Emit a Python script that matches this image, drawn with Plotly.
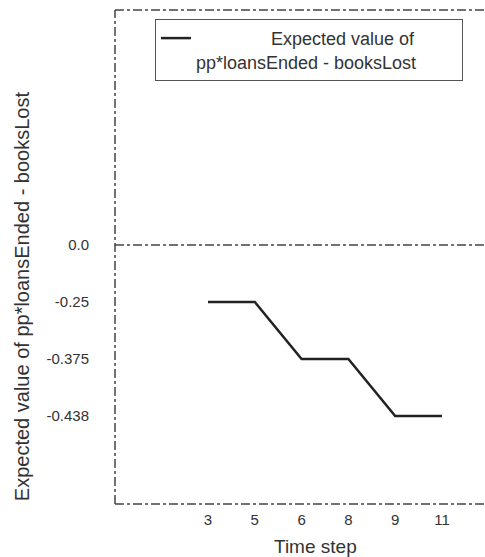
import plotly.graph_objects as go

# Data
time_steps = ["3", "5", "6", "8", "9", "11"]
expected_values = ["-0.25", "-0.25", "-0.375", "-0.375", "-0.438", "-0.438"]
y_categories = ["-0.438", "-0.375", "-0.25", "0.0"]
x_title = "Time step"
y_title = "Expected value of pp*loansEnded - booksLost"

NB = "\u00a0"
legend_name = NB * 15 + "Expected value of<br>pp*loansEnded - booksLost" + NB * 8

fig = go.Figure()
fig.add_trace(go.Scatter(
    x=time_steps, y=expected_values, mode="lines",
    name=legend_name,
    line=dict(color="#222222", width=2.5),
))

font_family = "Liberation Sans, Arial, sans-serif"
axis_color = "#444444"

fig.update_layout(
    width=485, height=557,
    margin=dict(l=115, r=0, t=10, b=53, autoexpand=False),
    paper_bgcolor="white", plot_bgcolor="white",
    font=dict(family=font_family, color="#333333"),
    showlegend=True,
    legend=dict(
        x=0.108, y=0.982, xanchor="left", yanchor="top",
        bordercolor="#555555", borderwidth=1, bgcolor="white",
        font=dict(size=18, color="#333333", family=font_family),
        valign="top",
    ),
    xaxis=dict(
        type="category", categoryorder="array", categoryarray=time_steps,
        range=[-1.987, 5.919], showgrid=False, zeroline=False, showline=False,
        ticks="", tickfont=dict(size=15, color="#333333"), ticklabelstandoff=5,
        fixedrange=True, automargin=False,
    ),
    yaxis=dict(
        type="category", categoryorder="array", categoryarray=y_categories,
        range=[-1.544, 7.12], showgrid=False, zeroline=False, showline=False,
        ticks="", tickfont=dict(size=15, color="#333333"), ticklabelstandoff=25,
        fixedrange=True, automargin=False,
    ),
    shapes=[
        dict(type="line", xref="paper", yref="paper", x0=0, x1=0, y0=0, y1=1,
             line=dict(color=axis_color, width=1.5, dash="dashdot")),
        dict(type="line", xref="paper", yref="paper", x0=0, x1=1, y0=1, y1=1,
             line=dict(color=axis_color, width=1.5, dash="dashdot")),
        dict(type="line", xref="paper", yref="paper", x0=0, x1=1, y0=0, y1=0,
             line=dict(color=axis_color, width=1.5, dash="dashdot")),
        dict(type="line", xref="paper", yref="y", x0=0, x1=1,
             y0=y_categories.index("0.0"), y1=y_categories.index("0.0"),
             line=dict(color=axis_color, width=1.5, dash="dashdot")),
    ],
    annotations=[
        dict(text=x_title, xref="paper", yref="paper", x=0.542, y=-0.087,
             xanchor="center", yanchor="middle", showarrow=False,
             font=dict(size=19, color="#333333")),
        dict(text=y_title, xref="paper", yref="paper", x=-0.251, y=0.421,
             xanchor="center", yanchor="middle", textangle=-90, showarrow=False,
             font=dict(size=20, color="#333333")),
    ],
)

fig.write_html(
    "out.html",
    config={"displayModeBar": False},
    post_script="document.body.style.margin='0';document.body.style.overflow='hidden';",
)
